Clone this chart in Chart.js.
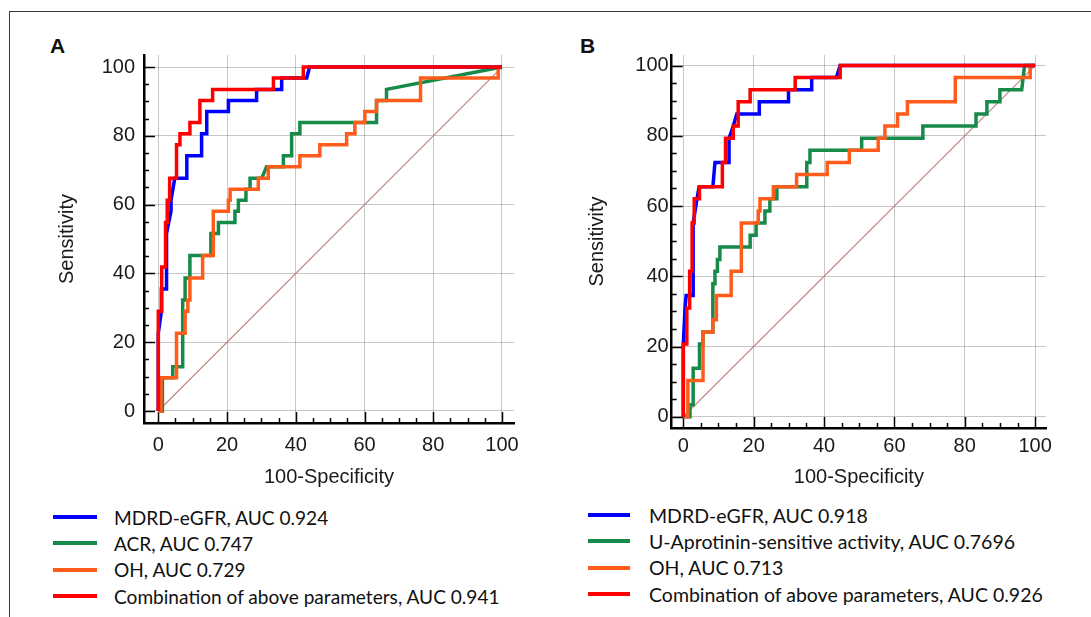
<!DOCTYPE html>
<html>
<head>
<meta charset="utf-8">
<script src="https://cdn.jsdelivr.net/npm/chart.js@4.4.1/dist/chart.umd.min.js"></script>
<style>
  html, body { margin: 0; padding: 0; background: #fff; }
  body { width: 1091px; height: 617px; position: relative; overflow: hidden; }
  .frame { position: absolute; left: 9px; top: 11px; width: 1090px; height: 610px;
           border-top: 1.5px solid #3a3a3a; border-left: 1.5px solid #3a3a3a; }
  canvas { position: absolute; top: 0; }
  #chartA { left: 0; }
  #chartB { left: 545px; }
  .tag { position: absolute; font: bold 21px "Liberation Sans", Arial, sans-serif; line-height: 21px; color: #111; }
  .legend { position: absolute; font-family: Lato, "Open Sans", sans-serif; color: #111; }
  #legendA { font-size: 19.1px; }
  #legendB { font-size: 19.5px; }
  .legend .row { height: 26.3px; display: flex; align-items: center; white-space: nowrap; }
  .legend .swatch { display: inline-block; height: 4px; }
</style>
</head>
<body>
<div class="frame"></div>
<div class="tag" style="left:50px; top:35px;">A</div>
<div class="tag" style="left:580px; top:35px;">B</div>
<canvas id="chartA" width="545" height="500"></canvas>
<canvas id="chartB" width="546" height="500"></canvas>
<div class="legend" id="legendA" style="left:53px; top:504px;"></div>
<div class="legend" id="legendB" style="left:588px; top:502px;"></div>
<script>
// ROC curves: 100-specificity (x) vs sensitivity (y), step vertices

// panel A
const aMdrdX = [0, 0, 0.9, 0.9, 2.4, 2.4, 3.7, 3.7, 4.8, 8.3, 8.3, 12.6, 12.6, 14.1, 14.1, 20.4, 20.4, 28.6, 28.6, 35.9, 35.9, 43.2, 44, 100];
const aMdrdY = [0, 22.6, 29, 35.5, 35.5, 51.6, 58.1, 61.3, 67.7, 67.7, 74.2, 74.2, 80.6, 80.6, 87.1, 87.1, 90.3, 90.3, 93.5, 93.5, 96.8, 96.8, 100, 100];

const aAcrX = [0, 1.2, 1.2, 4.2, 4.2, 7.1, 7.1, 7.8, 7.8, 9.2, 9.2, 15.3, 15.3, 17.5, 17.5, 22.3, 22.3, 23.3, 23.3, 25.5, 25.5, 26.7, 26.7, 30.1, 31.5, 36.4, 36.4, 38.8, 38.8, 41.2, 41.2, 63.5, 63.5, 66.4, 66.4, 100];
const aAcrY = [0, 0, 9.7, 9.7, 12.9, 12.9, 32.3, 32.3, 38.7, 38.7, 45.2, 45.2, 51.6, 51.6, 54.8, 54.8, 58.1, 58.1, 61.3, 61.3, 64.5, 64.5, 67.7, 67.7, 71, 71, 74.2, 74.2, 80.6, 80.6, 83.9, 83.9, 90.3, 90.3, 93.5, 100];

const aOhX = [0, 0.8, 0.8, 5.3, 5.3, 7.8, 7.8, 8.6, 8.6, 9.2, 9.2, 12.9, 12.9, 16, 16, 20.4, 20.4, 20.9, 20.9, 29.1, 29.1, 32, 32, 41.2, 41.2, 47, 47, 54.8, 54.8, 57.2, 57.2, 60.1, 60.1, 63.5, 63.5, 76.3, 76.3, 98.9, 98.9, 100];
const aOhY = [0, 0, 9.7, 9.7, 22.6, 22.6, 29, 29, 32.3, 32.3, 38.7, 38.7, 45.2, 45.2, 58.1, 58.1, 61.3, 61.3, 64.5, 64.5, 67.7, 67.7, 71, 71, 74.2, 74.2, 77.4, 77.4, 80.6, 80.6, 83.9, 83.9, 87.1, 87.1, 90.3, 90.3, 96.8, 96.8, 100, 100];

const aCombX = [0, 0, 1, 1, 2.1, 2.1, 2.6, 2.6, 3.3, 3.3, 5.3, 5.3, 6.3, 6.3, 9.2, 9.2, 12.1, 12.1, 15.8, 15.8, 33.5, 33.5, 42.2, 42.2, 100];
const aCombY = [0, 29, 29, 41.9, 41.9, 54.8, 54.8, 61.3, 61.3, 67.7, 67.7, 77.4, 77.4, 80.6, 80.6, 83.9, 83.9, 90.3, 90.3, 93.5, 93.5, 96.8, 96.8, 100, 100];

// panel B
const bMdrdX = [0, 0, 0.5, 0.8, 2.8, 2.8, 3.9, 4.5, 8.4, 9, 13, 13, 14.2, 15.2, 21.6, 21.6, 29.9, 29.9, 36.5, 36.5, 43.5, 44.6, 100];
const bMdrdY = [0, 20.7, 31, 34.5, 34.5, 55.2, 62.1, 65.5, 65.5, 72.4, 72.4, 79.3, 82.8, 86.2, 86.2, 89.7, 89.7, 93.1, 93.1, 96.6, 96.6, 100, 100];

const bAprotX = [0, 1.9, 1.9, 2.8, 2.8, 4.6, 4.6, 5.6, 5.6, 8.4, 8.4, 9, 9, 9.7, 9.7, 10.4, 10.4, 19, 19, 20.7, 20.7, 23.2, 23.2, 24.6, 24.6, 26.6, 26.6, 35.1, 35.1, 36, 36, 50.7, 50.7, 68.1, 68.1, 83.2, 83.2, 86.3, 86.3, 90, 90, 96.2, 97, 100];
const bAprotY = [0, 0, 3.4, 3.4, 13.8, 13.8, 20.7, 20.7, 24.1, 24.1, 37.9, 37.9, 41.4, 41.4, 44.8, 44.8, 48.3, 48.3, 51.7, 51.7, 55.2, 55.2, 58.6, 58.6, 62.1, 62.1, 65.5, 65.5, 72.4, 72.4, 75.9, 75.9, 79.3, 79.3, 82.8, 82.8, 86.2, 86.2, 89.7, 89.7, 93.1, 93.1, 100, 100];

const bOhX = [0, 1.3, 1.3, 5.6, 5.6, 8.4, 8.4, 9.4, 9.4, 13.6, 13.6, 16.5, 16.5, 21.3, 21.3, 21.8, 21.8, 25.6, 25.6, 32.2, 32.2, 40.9, 40.9, 47.2, 47.2, 55.4, 55.4, 57.3, 57.3, 60.9, 60.9, 63.7, 63.7, 77.3, 77.3, 98.6, 98.6, 100];
const bOhY = [0, 0, 10.3, 10.3, 24.1, 24.1, 27.6, 27.6, 34.5, 34.5, 41.4, 41.4, 55.2, 55.2, 58.6, 58.6, 62.1, 62.1, 65.5, 65.5, 69, 69, 72.4, 72.4, 75.9, 75.9, 79.3, 79.3, 82.8, 82.8, 86.2, 86.2, 89.7, 89.7, 96.6, 96.6, 100, 100];

const bCombX = [0, 0, 1, 1, 1.8, 1.8, 2.5, 2.5, 3.1, 3.1, 4.6, 4.6, 11.1, 11.1, 12, 12, 14.2, 14.2, 15.6, 15.6, 19, 19, 31.8, 31.8, 44.6, 44.6, 100];
const bCombY = [0, 20.7, 20.7, 31, 31, 41.4, 41.4, 55.2, 55.2, 62.1, 62.1, 65.5, 65.5, 72.4, 72.4, 79.3, 79.3, 82.8, 82.8, 89.7, 89.7, 93.1, 93.1, 96.6, 96.6, 100, 100];

// chance line
const diagX = [0, 100];
const diagY = [0, 100];

const tickValues = [0, 20, 40, 60, 80, 100];

const labelsA = ['MDRD-eGFR, AUC 0.924', 'ACR, AUC 0.747', 'OH, AUC 0.729', 'Combination of above parameters, AUC 0.941'];
const labelsB = ['MDRD-eGFR, AUC 0.918', 'U-Aprotinin-sensitive activity, AUC 0.7696', 'OH, AUC 0.713', 'Combination of above parameters, AUC 0.926'];

const colors = ['#0000ff', '#168a48', '#ff5c1c', '#ff0000'];
const drawOrder = [1, 3, 2, 0]; // red on top, then blue, orange, green

const axisFont = { family: '"Liberation Sans", Arial, sans-serif', size: 20 };

function pts(xs, ys) {
    return xs.map((x, i) => ({ x: x, y: ys[i] }));
}

// short tick marks pointing into the plot, every 5 units
const innerTicks = {
    id: 'innerTicks',
    beforeDatasetsDraw(chart) {
        const { ctx, chartArea, scales } = chart;
        ctx.save();
        ctx.strokeStyle = '#000';
        ctx.lineWidth = 1.5;
        ctx.beginPath();
        for (let v = 0; v <= 100; v += 5) {
            const len = v % 20 === 0 ? 11 : 5;
            const py = Math.round(scales.y.getPixelForValue(v)) + 0.5;
            ctx.moveTo(chartArea.left, py);
            ctx.lineTo(chartArea.left + len, py);
            const px = Math.round(scales.x.getPixelForValue(v)) + 0.5;
            ctx.moveTo(px, chartArea.bottom);
            ctx.lineTo(px, chartArea.bottom - len);
        }
        ctx.stroke();
        ctx.restore();
    }
};

function makeChart(id, series, labels, p) {
    var datasets = series.map((s, i) => ({
        label: labels[i],
        data: pts(s[0], s[1]),
        borderColor: colors[i],
        borderWidth: 3.5,
        order: drawOrder[i],
        fill: false
    }));
    datasets.push({
        label: 'diag',
        data: pts(diagX, diagY),
        borderColor: '#c0837f',
        borderWidth: 1.1,
        order: 9,
        fill: false
    });

    new Chart(document.getElementById(id), {
        type: 'line',
        data: { datasets: datasets },
        options: {
            responsive: false,
            animation: false,
            devicePixelRatio: 1,
            layout: { padding: { top: 55, right: p.padRight, left: 0, bottom: 0 } },
            plugins: { legend: { display: false }, tooltip: { enabled: false } },
            elements: { point: { radius: 0 }, line: { tension: 0 } },
            scales: {
                x: {
                    type: 'linear',
                    min: p.xmin,
                    max: p.xmax,
                    afterBuildTicks: axis => { axis.ticks = tickValues.map(v => ({ value: v })); },
                    afterFit: axis => { axis.height = p.xAxisHeight; },
                    grid: { color: 'rgba(0,0,0,0.22)', lineWidth: 1, drawTicks: false },
                    border: { color: '#000', width: 2.5 },
                    ticks: { padding: p.xTickPad, color: '#1a1a1a', font: axisFont },
                    title: { display: true, text: '100-Specificity', color: '#1a1a1a', font: axisFont,
                             padding: { top: 0, bottom: p.xTitlePad } }
                },
                y: {
                    type: 'linear',
                    min: p.ymin,
                    max: p.ymax,
                    afterBuildTicks: axis => { axis.ticks = tickValues.map(v => ({ value: v })); },
                    afterFit: axis => { axis.width = p.yAxisWidth; },
                    grid: { color: 'rgba(0,0,0,0.22)', lineWidth: 1, drawTicks: false },
                    border: { color: '#000', width: 2.5 },
                    ticks: { padding: p.yTickPad, color: '#1a1a1a', font: axisFont },
                    title: { display: true, text: 'Sensitivity', color: '#1a1a1a', font: axisFont,
                             padding: { top: p.yTitlePad, bottom: 0 } }
                }
            }
        },
        plugins: [innerTicks]
    });

    // legend under the plot
    var box = document.getElementById(p.legendId);
    labels.forEach((text, i) => {
        var row = document.createElement('div');
        row.className = 'row';
        var sw = document.createElement('span');
        sw.className = 'swatch';
        sw.style.width = p.swatchW + 'px';
        sw.style.marginRight = p.swatchGap + 'px';
        sw.style.background = colors[i];
        row.appendChild(sw);
        row.appendChild(document.createTextNode(text));
        box.appendChild(row);
    });
}

makeChart('chartA',
    [[aMdrdX, aMdrdY], [aAcrX, aAcrY], [aOhX, aOhY], [aCombX, aCombY]],
    labelsA,
    { xmin: -4.16, xmax: 103.5, ymin: -3.49, ymax: 103.5, padRight: 31,
      yAxisWidth: 144, xAxisHeight: 77, xTickPad: 10, yTickPad: 9,
      xTitlePad: 11, yTitlePad: 55, legendId: 'legendA', swatchW: 44, swatchGap: 17 });

makeChart('chartB',
    [[bMdrdX, bMdrdY], [bAprotX, bAprotY], [bOhX, bOhY], [bCombX, bCombY]],
    labelsB,
    { xmin: -3.3, xmax: 103.1, ymin: -3.2, ymax: 103.0, padRight: 45,
      yAxisWidth: 126.7, xAxisHeight: 72, xTickPad: 6.5, yTickPad: 3,
      xTitlePad: 11, yTitlePad: 40, legendId: 'legendB', swatchW: 42, swatchGap: 19 });
</script>
</body>
</html>
